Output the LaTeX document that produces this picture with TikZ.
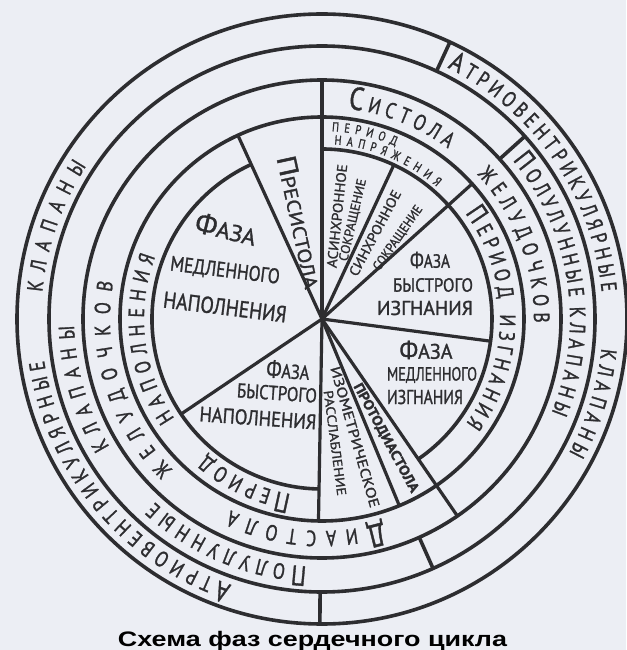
\documentclass[tikz,border=0pt]{standalone}
\usepackage{fontspec}
\usepackage{graphicx}
\setmainfont{PT Sans}
\newfontfamily\hand[FakeStretch=0.8,FakeBold=1.2]{PT Sans}
\newfontfamily\titlefont{Liberation Sans}
\usetikzlibrary{decorations.text}
\definecolor{ink}{RGB}{45,45,48}
\definecolor{paper}{RGB}{236,238,244}
\newcommand\fs[1]{\fontsize{#1}{#1}\selectfont}
\newcommand\fw[2]{\resizebox{#1}{\height}{#2}}
\newcommand\Ra{\color{ink}\hand\fs{22}}
\newcommand\Rb{\color{ink}\hand\fs{28}}
\newcommand\Rc{\color{ink}\hand\fs{32}}
\newcommand\Rs{\color{ink}\hand\fs{13}}
\newcommand\arctext[4]{\path[decorate,decoration={text along path,text={#4},text align={fit to path}}] (#2:#1) arc[start angle=#2,end angle=#3,radius=#1];}
\begin{document}
\begin{tikzpicture}[x=1pt,y=1pt,
  ln/.style={draw=ink,line width=3.6pt},
  sp/.style={draw=ink,line width=3.2pt,line cap=round},
  ct/.style={inner sep=0pt,text=ink,font=\hand}]
\fill[paper] (-322,-331) rectangle (304,319);
\useasboundingbox (-322,-331) rectangle (304,319);
% rings
\foreach \r in {305,273,239,202} \draw[ln] (0,0) circle[radius=\r];
\draw[ln] (90:170) arc[start angle=90,end angle=-55.5,radius=170];
\draw[ln] (114.6:170) arc[start angle=114.6,end angle=269,radius=170];
% spokes
\draw[sp] (0,0) -- (114.6:202);
\draw[sp] (0,0) -- (90:239);
\draw[sp] (0,0) -- (65:170);
\draw[sp] (0,0) -- (42:202);
\draw[sp] (0,0) -- (-7.5:170);
\draw[sp] (0,0) -- (-55.5:239);
\draw[sp] (0,0) -- (-67.5:202);
\draw[sp] (0,0) -- (-91:202);
\draw[sp] (0,0) -- (-146:170);
% ring dividers
\draw[ln] (42:239) -- (42:273);
\draw[ln] (-66:239) -- (-66:273);
\draw[ln] (65.2:273) -- (65.2:305);
\draw[ln] (-90.4:273) -- (-90.4:305);
% ring 1
\arctext{281}{63.5}{5.5}{|\Rb|А|\Ra|ТРИОВЕНТРИКУЛЯРНЫЕ}
\arctext{281}{-6}{-28.5}{|\Ra|КЛАПАНЫ}
\arctext{281}{-108.8}{-171.5}{|\Rb|А|\Ra|ТРИОВЕНТРИКУЛЯРНЫЕ}
\arctext{281}{174.5}{147}{|\Ra|КЛАПАНЫ}
% ring 2
\arctext{248}{39.8}{5}{|\Rb|П|\Ra|ОЛУЛУННЫЕ}
\arctext{248}{2.8}{-22.2}{|\Ra|КЛАПАНЫ}
\arctext{248}{-93.5}{-132.5}{|\Rb|П|\Ra|ОЛУЛУННЫЕ}
\arctext{248}{-149}{-178.5}{|\Ra|КЛАПАНЫ}
% ring 3
\arctext{212}{83}{53.5}{|\Rc|С|\Ra|ИСТОЛА}
\arctext{212}{43}{-1}{|\Ra|ЖЕЛУДОЧКОВ}
\arctext{212}{-73.5}{-115.5}{|\Rc|Д|\Ra|ИАСТОЛА}
\arctext{212}{-134.8}{-190}{|\Ra|ЖЕЛУДОЧКОВ}
% ring 4
\arctext{178}{-100}{-130.5}{|\Rb|П|\Ra|ЕРИОД}
\arctext{178}{-146}{-200.5}{|\Ra|НАПОЛНЕНИЯ}
\arctext{178}{36.5}{6.5}{|\Rb|П|\Ra|ЕРИОД}
\arctext{178}{1.5}{-36}{|\Ra|ИЗГНАНИЯ}
\arctext{188}{87}{67}{|\Rs|ПЕРИОД}
\arctext{175}{86}{49}{|\Rs|НАПРЯЖЕНИЯ}
% central phases
\node[ct,rotate=-14] (fazaA) at (-96,90) {\fw{62pt}{\fs{28}Ф\fs{23}АЗА}};
\node[ct,rotate=-7] (medA) at (-97,48) {\fs{21}\fw{110pt}{МЕДЛЕННОГО}};
\node[ct,rotate=-7] (napA) at (-97,12) {\fs{23}\fw{124pt}{НАПОЛНЕНИЯ}};
\node[ct,rotate=-4] (fazaB) at (-34,-51) {\fw{43pt}{\fs{24}Ф\fs{20}АЗА}};
\node[ct,rotate=-4] (bysB) at (-45,-74) {\fs{20}\fw{80pt}{БЫСТРОГО}};
\node[ct,rotate=-4] (napB) at (-64,-99) {\fs{21}\fw{117pt}{НАПОЛНЕНИЯ}};
\node[ct] (fazaC) at (108,59) {\fw{40pt}{\fs{22}Ф\fs{19}АЗА}};
\node[ct] (bysC) at (111,34) {\fs{19}\fw{80pt}{БЫСТРОГО}};
\node[ct] (izgC) at (103,11) {\fs{20}\fw{96pt}{ИЗГНАНИЯ}};
\node[ct] (fazaD) at (104,-31) {\fw{53pt}{\fs{25}Ф\fs{21}АЗА}};
\node[ct] (medD) at (110,-56) {\fs{19}\fw{90pt}{МЕДЛЕННОГО}};
\node[ct] (izgD) at (103,-78) {\fs{20}\fw{76pt}{ИЗГНАНИЯ}};
% radial sectors
\node[ct,rotate=-77.7] (pres) at (-22,97) {\fw{135pt}{\fs{27}П\fs{19}РЕСИСТОЛА}};
\node[ct,rotate=84] (asyn) at (15,103) {\fs{14}\fw{104pt}{АСИНХРОННОЕ}};
\node[ct,rotate=77] (sokA) at (31,99) {\fs{13}\fw{84pt}{СОКРАЩЕНИЕ}};
\node[ct,rotate=62] (syn) at (53,86) {\fs{14}\fw{95pt}{СИНХРОННОЕ}};
\node[ct,rotate=55] (sokB) at (76,81) {\fs{13}\fw{76pt}{СОКРАЩЕНИЕ}};
\node[ct,rotate=-74] (izom) at (33,-118) {\fs{14}\fw{146pt}{ИЗОМЕТРИЧЕСКОЕ}};
\node[ct,rotate=-82.5] (rass) at (13,-124) {\fs{13}\fw{106pt}{РАССЛАБЛЕНИЕ}};
\node[ct,rotate=-61.5] (proto) at (64,-119) {\fs{14}\bfseries\fw{122pt}{ПРОТОДИАСТОЛА}};
% title
\node[inner sep=0pt,font=\titlefont\bfseries\fs{21},text=black,anchor=base] (title) at (-9.5,-327) {\fw{389pt}{Схема фаз сердечного цикла}};
\end{tikzpicture}
\end{document}
